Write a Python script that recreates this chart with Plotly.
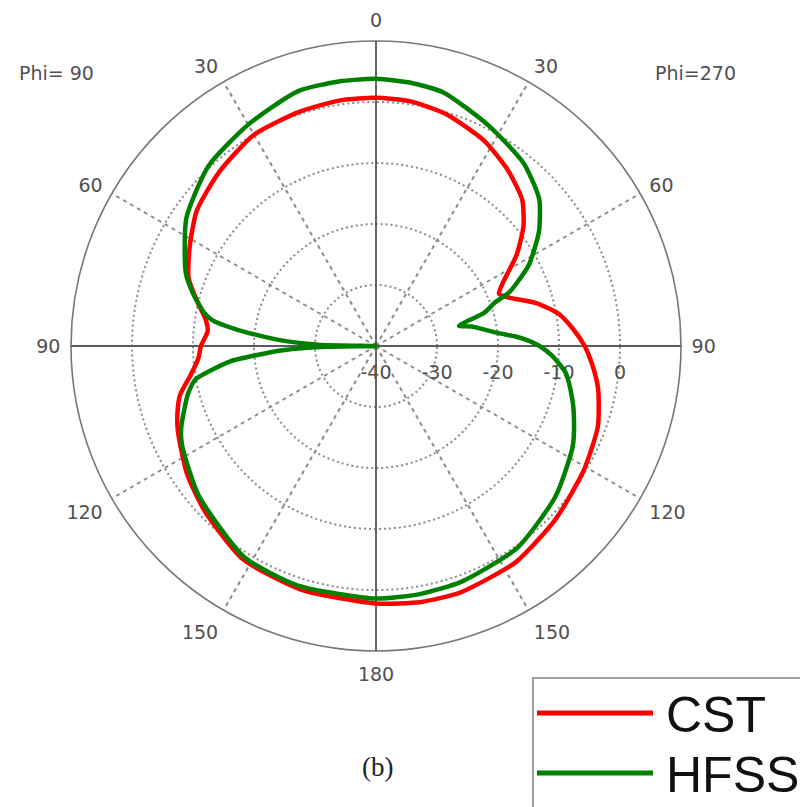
import plotly.graph_objects as go

# ---- data (theta: degrees clockwise from top, right half = "Phi=270" side) ----
cst_theta = [0, 8, 17, 28, 37, 45, 51, 57, 61, 64, 67, 70, 75, 80, 85, 90, 95, 101, 110, 121,
             134, 147, 161, 170, 180, 197, 212, 226, 236, 247, 252, 256, 261, 266, 270, 275,
             279, 284, 290, 298, 307, 318, 330, 342, 352, 360]
cst_db = [0.7, 0.5, -0.3, -2.0, -4.0, -6.1, -8.9, -12.5, -15.3, -17.0, -18.1, -16.8, -12.8, -9.6,
          -7.6, -5.8, -4.4, -2.9, -1.3, -0.3, 0.9, 2.2, 2.7, 2.6, 2.2, 1.8, 1.2, -1.0, -2.6, -4.7,
          -5.8, -6.9, -9.2, -10.8, -11.3, -12.3, -11.7, -9.8, -7.3, -5.4, -3.2, -1.6, 0.0, 0.4,
          0.7, 0.7]

hfss_theta = [0, 8, 15, 27, 39, 48, 55, 62, 66, 68, 70, 73, 76.3, 78.5, 81, 84, 86, 88, 90, 93,
              98, 105, 109, 117, 130, 145, 160, 170, 180, 198, 212, 230, 243, 247, 252, 256,
              259.5, 261.5, 264, 265.5, 267.5, 269, 270, 271, 273, 275, 277, 279, 281, 286, 291,
              304, 317, 330, 343, 352, 360]
hfss_db = [3.8, 3.5, 3.0, 0.6, -1.5, -4.0, -7.4, -11.6, -14.8, -16.4, -19.3, -21.5, -26.0, -24.0,
           -22.3, -19.8, -17.2, -15.0, -13.2, -11.2, -8.6, -6.7, -5.7, -3.8, -1.6, 0.4, 1.1, 1.3,
           1.4, 1.3, 0.8, -2.0, -4.3, -5.3, -7.0, -8.3, -9.9, -12.5, -16.0, -20.0, -25.0, -31.0,
           -40.0, -31.0, -25.5, -21.0, -16.5, -12.8, -11.3, -8.8, -6.6, -2.5, 0.3, 1.9, 3.7, 3.8,
           3.8]

angle_ticks = [0, 30, 60, 90, 120, 150, 180, 210, 240, 270, 300, 330]
angle_labels = ["0", "30", "60", "90", "120", "150", "180", "150", "120", "90", "60", "30"]
radial_ticks = [-40, -30, -20, -10, 0]
radial_labels = ["-40", "-30", "-20", "-10", "0"]
R_MIN, R_MAX = -40, 10

W, H = 800, 807
TICK_FONT = dict(family="DejaVu Sans", size=19, color="#505050")

fig = go.Figure()

# solid cross-hair axes through the centre
for a, b in [(0, 180), (90, 270)]:
    fig.add_trace(go.Scatterpolar(
        r=[R_MAX, R_MIN, R_MAX], theta=[a, a, b],
        mode="lines", line=dict(color="#5a5a5a", width=1.8),
        hoverinfo="skip", showlegend=False))

fig.add_trace(go.Scatterpolar(
    r=cst_db, theta=cst_theta, mode="lines", name="CST",
    line=dict(color="rgb(255,0,0)", width=4.5, shape="spline", smoothing=0.6)))
fig.add_trace(go.Scatterpolar(
    r=hfss_db, theta=hfss_theta, mode="lines", name="HFSS",
    line=dict(color="rgb(0,128,0)", width=4.5, shape="spline", smoothing=0.6)))

cx, cy, rad = 376, 346, 305
fig.update_layout(
    width=W, height=H,
    margin=dict(l=0, r=0, t=0, b=0),
    paper_bgcolor="white", plot_bgcolor="white",
    showlegend=False,
    polar=dict(
        domain=dict(x=[(cx - rad) / W, (cx + rad) / W],
                    y=[(H - cy - rad) / H, (H - cy + rad) / H]),
        bgcolor="white",
        angularaxis=dict(
            rotation=90, direction="clockwise", layer="below traces",
            tickmode="array", tickvals=angle_ticks, ticktext=angle_labels,
            showline=True, linecolor="#777777", linewidth=1.6,
            showgrid=True, gridcolor="#8a8a8a", gridwidth=1.5, griddash="4px,4px",
            ticks="outside", ticklen=6, tickcolor="rgba(0,0,0,0)", tickfont=TICK_FONT),
        radialaxis=dict(
            range=[R_MIN, R_MAX], angle=0, side="clockwise", layer="below traces",
            tickmode="array", tickvals=radial_ticks, ticktext=radial_labels,
            showline=False, ticks="outside", ticklen=10, tickcolor="rgba(0,0,0,0)",
            showgrid=True, gridcolor="#8a8a8a", gridwidth=1.6, griddash="2px,3px",
            tickfont=TICK_FONT),
    ),
)

# side captions
fig.add_annotation(x=57 / W, y=1 - 73 / H, xref="paper", yref="paper", text="Phi= 90",
                   showarrow=False, font=TICK_FONT, xanchor="center", yanchor="middle")
fig.add_annotation(x=695 / W, y=1 - 73 / H, xref="paper", yref="paper", text="Phi=270",
                   showarrow=False, font=TICK_FONT, xanchor="center", yanchor="middle")
fig.add_annotation(x=377 / W, y=1 - 767 / H, xref="paper", yref="paper", text="(b)",
                   showarrow=False, font=dict(family="Liberation Serif", size=27, color="#222"),
                   xanchor="center", yanchor="middle")

# hand-drawn legend box
fig.add_shape(type="rect", xref="paper", yref="paper",
              x0=533 / W, x1=1.02, y0=-0.02, y1=1 - 678 / H,
              line=dict(color="#a0a0a0", width=2), fillcolor="white", layer="above")
legend_items = [("CST", "rgb(255,0,0)", 713), ("HFSS", "rgb(0,128,0)", 773)]
for name, col, ly in legend_items:
    fig.add_shape(type="line", xref="paper", yref="paper",
                  x0=537 / W, x1=653 / W, y0=1 - ly / H, y1=1 - ly / H,
                  line=dict(color=col, width=5), layer="above")
    fig.add_annotation(x=664 / W, y=1 - (ly + 2) / H, xref="paper", yref="paper", text=name,
                       showarrow=False, xanchor="left", yanchor="middle",
                       font=dict(family="Liberation Sans", size=50, color="#111"))

fig.write_html("out.html", config={"displayModeBar": False},
               post_script="document.body.style.margin='0';document.body.style.overflow='hidden';")
